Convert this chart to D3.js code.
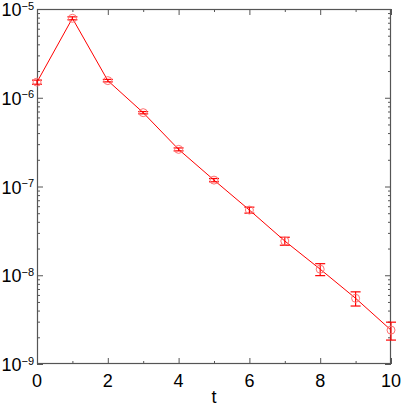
<!DOCTYPE html>
<html>
<head>
<meta charset="utf-8">
<script src="https://cdn.jsdelivr.net/npm/d3@7"></script>
<style>
  body { margin: 0; background: #fff; }
  svg { display: block; font-family: "Liberation Sans", Arial, Helvetica, sans-serif; }
</style>
</head>
<body>
<div id="chart"></div>
<script>
// values
const tValues = [0, 1, 2, 3, 4, 5, 6, 7, 8, 9, 10];
const corr = [1.50e-6, 7.86e-6, 1.56e-6, 6.79e-7, 2.62e-7, 1.18e-7, 5.43e-8, 2.43e-8, 1.17e-8, 5.50e-9, 2.41e-9];
const corrErr = [0.08e-6, 0.3e-6, 0.05e-6, 0.2e-7, 0.1e-7, 0.05e-7, 0.42e-8, 0.25e-8, 0.18e-8, 1.0e-9, 0.55e-9];
const xTickLabels = [0, 2, 4, 6, 8, 10];
const yDecades = [1e-9, 1e-8, 1e-7, 1e-6, 1e-5];
const yExponents = ["−9", "−8", "−7", "−6", "−5"];

const width = 402, height = 410;
const margin = { top: 9, right: 11, bottom: 46, left: 37 };

const svg = d3.select("#chart").append("svg")
    .attr("width", width)
    .attr("height", height);

let x = d3.scaleLinear().domain([0, 10]).range([margin.left, width - margin.right]);
let y = d3.scaleLog().domain([1e-9, 1e-5]).range([height - margin.bottom, margin.top]);

const axisColor = "#555";

// minor + major ticks, all pointing inward
let minorX = d3.range(1, 10, 2);
let minorY = y.ticks().filter(v => !yDecades.some(d => Math.abs(d - v) / d < 1e-6));

let drawAxis = (axis, transform) => {
    let g = svg.append("g").attr("transform", transform).call(axis);
    g.select(".domain").remove();
    g.selectAll(".tick line").attr("stroke", axisColor);
    g.selectAll("text").remove();
    return g;
};

let yPos = height - margin.bottom, xPos = width - margin.right;
drawAxis(d3.axisBottom(x).tickValues(xTickLabels).tickSize(-6), `translate(0,${yPos})`);
drawAxis(d3.axisBottom(x).tickValues(minorX).tickSize(-3), `translate(0,${yPos})`);
drawAxis(d3.axisTop(x).tickValues(xTickLabels).tickSize(-6), `translate(0,${margin.top})`);
drawAxis(d3.axisTop(x).tickValues(minorX).tickSize(-3), `translate(0,${margin.top})`);
drawAxis(d3.axisLeft(y).tickValues(yDecades).tickSize(-6), `translate(${margin.left},0)`);
drawAxis(d3.axisLeft(y).tickValues(minorY).tickSize(-3), `translate(${margin.left},0)`);
drawAxis(d3.axisRight(y).tickValues(yDecades).tickSize(-6), `translate(${xPos},0)`);
drawAxis(d3.axisRight(y).tickValues(minorY).tickSize(-3), `translate(${xPos},0)`);

// frame
svg.append("rect")
    .attr("x", margin.left + 0.5)
    .attr("y", margin.top + 0.5)
    .attr("width", xPos - margin.left - 1)
    .attr("height", yPos - margin.top - 1)
    .attr("fill", "none")
    .attr("stroke", axisColor)
    .attr("stroke-width", 1.2);

// x tick labels
svg.append("g").selectAll("text")
    .data(xTickLabels)
    .enter().append("text")
    .attr("x", d => x(d))
    .attr("y", yPos + 23)
    .attr("text-anchor", "middle")
    .attr("font-size", 18)
    .text(d => d);

// y tick labels with superscript exponent
let yLabels = svg.append("g").selectAll("text")
    .data(yDecades)
    .enter().append("text")
    .attr("x", 34)
    .attr("y", d => y(d) + 7)
    .attr("text-anchor", "end")
    .attr("font-size", 18);
yLabels.append("tspan").text("10");
yLabels.append("tspan")
    .attr("font-size", 11)
    .attr("dy", -6.5)
    .text((d, i) => yExponents[i]);

// axis title
svg.append("text")
    .attr("x", (margin.left + xPos) / 2)
    .attr("y", 403)
    .attr("text-anchor", "middle")
    .attr("font-size", 18)
    .text("t");

// data
let points = tValues.map((t, i) => ({ t: t, v: corr[i], e: corrErr[i] }));

svg.append("path")
    .datum(points)
    .attr("fill", "none")
    .attr("stroke", "#ff0000")
    .attr("stroke-width", 1)
    .attr("d", d3.line().x(d => x(d.t)).y(d => y(d.v)));

let bars = svg.append("g").attr("stroke", "#ff0000").attr("stroke-width", 1.2);
bars.selectAll(".err")
    .data(points)
    .enter().append("line")
    .attr("x1", d => x(d.t)).attr("x2", d => x(d.t))
    .attr("y1", d => y(d.v + d.e)).attr("y2", d => y(d.v - d.e));
bars.selectAll(".capTop")
    .data(points)
    .enter().append("line")
    .attr("x1", d => x(d.t) - 5).attr("x2", d => x(d.t) + 5)
    .attr("y1", d => y(d.v + d.e)).attr("y2", d => y(d.v + d.e));
bars.selectAll(".capBottom")
    .data(points)
    .enter().append("line")
    .attr("x1", d => x(d.t) - 5).attr("x2", d => x(d.t) + 5)
    .attr("y1", d => y(d.v - d.e)).attr("y2", d => y(d.v - d.e));

svg.append("g").selectAll("circle")
    .data(points)
    .enter().append("circle")
    .attr("cx", d => x(d.t))
    .attr("cy", d => y(d.v))
    .attr("r", 4)
    .attr("fill", "none")
    .attr("stroke", "#ff7070")
    .attr("stroke-width", 1);
</script>
</body>
</html>
